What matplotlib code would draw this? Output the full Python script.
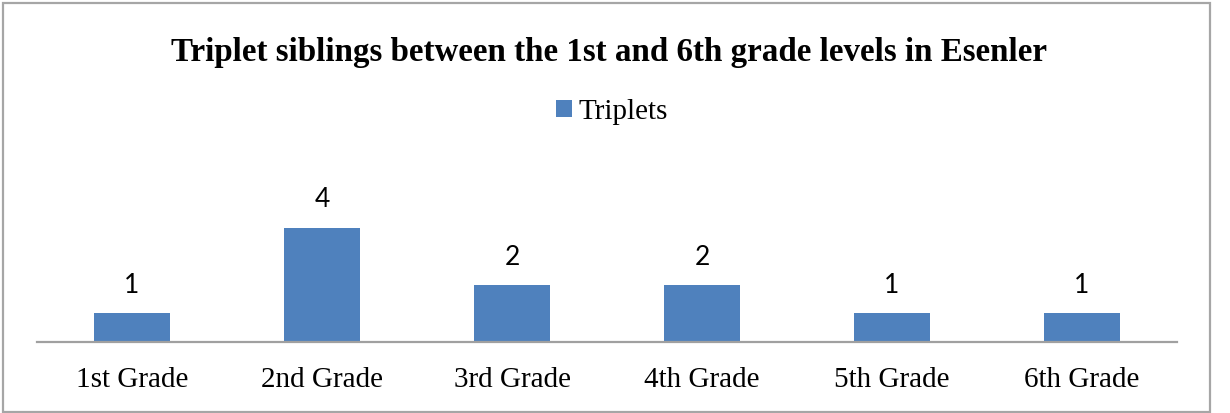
import matplotlib
matplotlib.use("Agg")
import matplotlib.pyplot as plt
from matplotlib.patches import Rectangle, Patch

categories = ["1st Grade", "2nd Grade", "3rd Grade", "4th Grade", "5th Grade", "6th Grade"]
triplets = [1, 4, 2, 2, 1, 1]
series_name = "Triplets"
title = "Triplet siblings between the 1st and 6th grade levels in Esenler"

W, H = 1230, 413
fig = plt.figure(figsize=(W / 100, H / 100), dpi=100)
fig.patch.set_facecolor("white")

# outer chart frame
fig.add_artist(Rectangle((3 / W, 1 - 412 / H), (1210 - 3) / W, (412 - 3) / H,
                         transform=fig.transFigure, fill=False,
                         edgecolor="#a6a6a6", linewidth=1.6))

left, right, base = 37, 1177, 342
unit = 28.6
ymax = 6
ax = fig.add_axes([left / W, 1 - base / H, (right - left) / W, ymax * unit / H])
ax.set_facecolor("none")

x = list(range(len(categories)))
bars = ax.bar(x, triplets, width=0.4, color="#4F81BD", zorder=2)
ax.set_xlim(-0.5, len(categories) - 0.5)
ax.set_ylim(0, ymax)

for b, v in zip(bars, triplets):
    ax.annotate(str(v), (b.get_x() + b.get_width() / 2, v), xytext=(0, 11),
                textcoords="offset points", ha="center", va="bottom",
                fontsize=19, family="Lato", color="#000000")

for s in ["top", "right", "left"]:
    ax.spines[s].set_visible(False)
ax.spines["bottom"].set_color("#a0a0a0")
ax.spines["bottom"].set_linewidth(1.6)
ax.set_yticks([])
ax.set_xticks(x)
ax.set_xticklabels(categories, fontsize=21, family="Liberation Serif")
ax.tick_params(axis="x", length=0, pad=18)

fig.text(0.495, 1 - 53 / H, title, ha="center", va="center",
         fontsize=23.8, fontweight="bold", family="Liberation Serif")

handle = Patch(facecolor="#4F81BD", edgecolor="none")
fig.legend([handle], [series_name], loc="center", bbox_to_anchor=(612 / W, 1 - 112 / H),
           frameon=False, prop={"family": "Liberation Serif", "size": 21},
           handlelength=0.55, handleheight=0.55, handletextpad=0.2)

fig.savefig("out.png", dpi=100)
